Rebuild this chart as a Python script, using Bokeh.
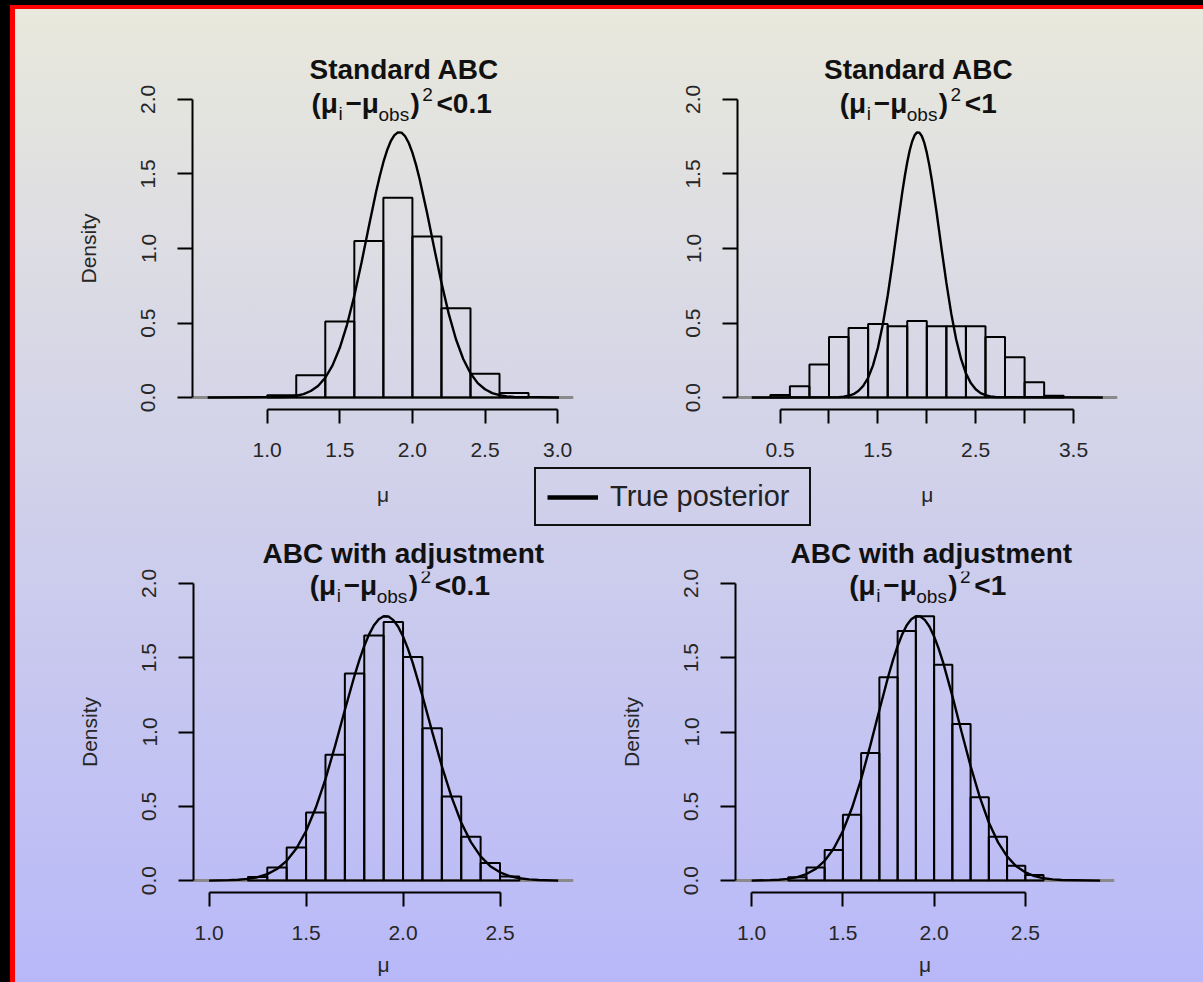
from bokeh.plotting import figure
from bokeh.models import Range1d, Label, Legend, LegendItem, Span, FixedTicker
from bokeh.layouts import column, row
from bokeh.embed import file_html
from bokeh.resources import INLINE

FONT = "Liberation Sans"

# ---------------- data ----------------
# true posterior density curve (same in all panels)
post_x = [1.10, 1.15, 1.20, 1.25, 1.30, 1.35, 1.40, 1.45, 1.50, 1.55, 1.60, 1.65,
          1.70, 1.75, 1.775, 1.80, 1.825, 1.85, 1.875, 1.90, 1.925, 1.95, 1.975,
          2.00, 2.025, 2.05, 2.10, 2.15, 2.20, 2.25, 2.30, 2.35, 2.40, 2.45, 2.50,
          2.55, 2.60, 2.65, 2.70]
post_y = [0.003, 0.006, 0.012, 0.023, 0.044, 0.078, 0.133, 0.216, 0.334, 0.490,
          0.683, 0.908, 1.148, 1.380, 1.485, 1.579, 1.657, 1.718, 1.759, 1.779,
          1.777, 1.753, 1.708, 1.643, 1.561, 1.465, 1.243, 1.003, 0.771, 0.563,
          0.391, 0.259, 0.163, 0.097, 0.056, 0.030, 0.016, 0.008, 0.004]

# Standard ABC, tolerance 0.1
p1_edges = [1.0, 1.2, 1.4, 1.6, 1.8, 2.0, 2.2, 2.4, 2.6, 2.8]
p1_density = [0.015, 0.15, 0.51, 1.05, 1.34, 1.08, 0.60, 0.16, 0.03]
p1_curve_ends = [0.59, 3.01]

# Standard ABC, tolerance 1
p2_edges = [0.4, 0.6, 0.8, 1.0, 1.2, 1.4, 1.6, 1.8, 2.0, 2.2, 2.4, 2.6, 2.8, 3.0, 3.2, 3.4]
p2_density = [0.018, 0.076, 0.222, 0.406, 0.467, 0.494, 0.478, 0.514, 0.478, 0.478,
              0.478, 0.406, 0.271, 0.103, 0.013]
p2_curve_ends = [0.21, 3.80]

# ABC with adjustment, tolerance 0.1
p3_edges = [1.2, 1.3, 1.4, 1.5, 1.6, 1.7, 1.8, 1.9, 2.0, 2.1, 2.2, 2.3, 2.4, 2.5, 2.6]
p3_density = [0.025, 0.089, 0.222, 0.459, 0.847, 1.393, 1.650, 1.741, 1.504, 1.025,
              0.566, 0.295, 0.118, 0.027]
p3_curve_ends = [1.00, 2.80]

# ABC with adjustment, tolerance 1
p4_edges = [1.2, 1.3, 1.4, 1.5, 1.6, 1.7, 1.8, 1.9, 2.0, 2.1, 2.2, 2.3, 2.4, 2.5, 2.6]
p4_density = [0.022, 0.089, 0.206, 0.444, 0.858, 1.368, 1.679, 1.779, 1.453, 1.053,
              0.561, 0.295, 0.100, 0.038]
p4_curve_ends = [1.00, 2.91]

titles_main = ["Standard ABC", "Standard ABC", "ABC with adjustment", "ABC with adjustment"]
titles_tol = ["<0.1", "<1", "<0.1", "<1"]

y_ticks = [0.0, 0.5, 1.0, 1.5, 2.0]
y_tick_labels = ["0.0", "0.5", "1.0", "1.5", "2.0"]
x_ticks_p1 = [1.0, 1.5, 2.0, 2.5, 3.0]
x_tick_labels_p1 = ["1.0", "1.5", "2.0", "2.5", "3.0"]
x_ticks_p2 = [0.5, 1.0, 1.5, 2.0, 2.5, 3.0, 3.5]
x_tick_labels_p2 = ["0.5", "", "1.5", "", "2.5", "", "3.5"]
x_ticks_p34 = [1.0, 1.5, 2.0, 2.5]
x_tick_labels_p34 = ["1.0", "1.5", "2.0", "2.5"]
legend_label = "True posterior"
x_label = "\u03bc"
y_label = "Density"

# ---------------- layout (pixels) ----------------
TOP_H, MID_H, BOT_H = 466, 66, 450
LEFT_W, RIGHT_W = 600, 603

specs = [
    dict(edges=p1_edges, dens=p1_density, ends=p1_curve_ends, title=titles_main[0], tol=titles_tol[0],
         xt=x_ticks_p1, xl=x_tick_labels_p1, w=LEFT_W, h=TOP_H, mb=(192, 27, 87, 57),
         xr=(0.4855, 3.1095), t1=117, t2=(119.0, -16.0), ylab=True, xlab=False, xso=19),
    dict(edges=p2_edges, dens=p2_density, ends=p2_curve_ends, title=titles_main[1], tol=titles_tol[1],
         xt=x_ticks_p2, xl=x_tick_labels_p2, w=RIGHT_W, h=TOP_H, mb=(137, 86, 87, 57),
         xr=(0.0644, 3.950), t1=86.5, t2=(102.3, -16.0), ylab=False, xlab=False, xso=19),
    dict(edges=p3_edges, dens=p3_density, ends=p3_curve_ends, title=titles_main[2], tol=titles_tol[2],
         xt=x_ticks_p34, xl=x_tick_labels_p34, w=LEFT_W, h=BOT_H, mb=(193, 27, 35, 90),
         xr=(0.9195, 2.879), t1=69, t2=(116.2, -14.0), ylab=True, xlab=True, xso=19),
    dict(edges=p4_edges, dens=p4_density, ends=p4_curve_ends, title=titles_main[3], tol=titles_tol[3],
         xt=x_ticks_p34, xl=x_tick_labels_p34, w=RIGHT_W, h=BOT_H, mb=(135, 89, 35, 90),
         xr=(0.9112, 2.989), t1=55, t2=(113.8, -14.0), ylab=True, xlab=True, xso=19),
]

YR = (-0.08, 2.08)
INK = "#262626"


def make_panel(s):
    p = figure(width=s["w"], height=s["h"], x_range=Range1d(*s["xr"]), y_range=Range1d(*YR),
               output_backend="svg", toolbar_location=None, tools="",
               min_border_left=s["mb"][0], min_border_right=s["mb"][1],
               min_border_top=s["mb"][2], min_border_bottom=s["mb"][3])
    p.background_fill_alpha = 0
    p.border_fill_alpha = 0
    p.outline_line_color = None
    p.grid.visible = False

    # title, first line
    p.title.text = s["title"]
    p.title.align = "left"
    p.title.offset = s["t1"]
    p.title.standoff = 6
    p.title.text_font = FONT
    p.title.text_font_style = "bold"
    p.title.text_font_size = "28px"
    p.title.text_color = "#111111"

    p.add_layout(Span(location=0, dimension="width", line_color="#8a8a8a",
                      line_width=3, level="underlay"))
    p.quad(left=s["edges"][:-1], right=s["edges"][1:], bottom=0, top=s["dens"],
           fill_color=None, line_color="black", line_width=2)
    cx = [s["ends"][0]] + post_x + [s["ends"][1]]
    cy = [0.0] + post_y + [0.0]
    p.line(cx, cy, line_color="black", line_width=2.4)

    xa = p.xaxis[0]
    xa.ticker = FixedTicker(ticks=s["xt"])
    xa.major_label_overrides = {t: l for t, l in zip(s["xt"], s["xl"])}
    xa.bounds = (s["xt"][0], s["xt"][-1])
    ya = p.yaxis[0]
    ya.ticker = FixedTicker(ticks=y_ticks)
    ya.major_label_overrides = {t: l for t, l in zip(y_ticks, y_tick_labels)}
    ya.bounds = (y_ticks[0], y_ticks[-1])
    ya.major_label_orientation = "vertical"
    for ax in (xa, ya):
        ax.axis_line_width = 2
        ax.axis_line_color = "black"
        ax.major_tick_line_width = 2
        ax.major_tick_line_color = "black"
        ax.major_tick_in = 0
        ax.minor_tick_line_color = None
        ax.major_label_text_font = FONT
        ax.major_label_text_font_size = "21px"
        ax.major_label_text_color = INK
    xa.major_tick_out = 14
    xa.major_label_standoff = s["xso"]
    ya.major_tick_out = 15
    ya.major_label_standoff = 22
    if s["ylab"]:
        ya.axis_label = y_label
        ya.axis_label_text_font = FONT
        ya.axis_label_text_font_size = "21px"
        ya.axis_label_text_font_style = "normal"
        ya.axis_label_text_color = INK
        ya.axis_label_standoff = 39
    if s["xlab"]:
        xa.axis_label = x_label
        xa.axis_label_text_font = FONT
        xa.axis_label_text_font_size = "21px"
        xa.axis_label_text_font_style = "normal"
        xa.axis_label_text_color = INK
        xa.axis_label_standoff = 10

    x0, y1 = s["xr"][0], YR[1]
    # title, second line : (mu_i - mu_obs)^2 < tol
    pieces = [("(\u03bc", 0.0, 0.0, "28px", "bold"),
              ("i", 27.0, -10.0, "19px", "normal"),
              ("\u2212\u03bc", 34.0, 0.0, "28px", "bold"),
              ("obs", 67.0, -11.0, "19px", "normal"),
              (")", 99.0, 0.0, "28px", "bold"),
              ("2", 110.7, 9.0, "19px", "normal"),
              (s["tol"], 125.0, 0.0, "28px", "bold")]
    for txt, dx, dy, fs, st in pieces:
        p.add_layout(Label(x=x0, y=y1, x_offset=s["t2"][0] + dx, y_offset=s["t2"][1] + dy,
                           text=txt, text_align="left", text_baseline="alphabetic",
                           text_font=FONT, text_font_style=st, text_font_size=fs,
                           text_color="#111111"))
    return p


panels = [make_panel(s) for s in specs]

# middle band: x-axis labels of the upper panels and the legend
pm = figure(width=LEFT_W + RIGHT_W, height=MID_H, x_range=Range1d(0, 1203), y_range=Range1d(532, 466),
            output_backend="svg", toolbar_location=None, tools="", min_border=0,
            x_axis_location=None, y_axis_location=None)
pm.background_fill_alpha = 0
pm.border_fill_alpha = 0
pm.outline_line_color = None
pm.grid.visible = False
for cxp in (382.5, 926.7):
    pm.add_layout(Label(x=cxp, y=494, text=x_label, text_align="center", text_baseline="alphabetic",
                        text_font=FONT, text_font_size="21px", text_color=INK))
# the posterior curve lies outside this band's ranges: it only feeds the legend sample
r_leg = pm.line(x=post_x, y=post_y, line_color="black", line_width=4.5)
legend = Legend(items=[LegendItem(label=legend_label, renderers=[r_leg])], location=(534, 6),
                padding=11, spacing=0, margin=0, glyph_width=51, glyph_height=30, label_standoff=12,
                label_width=188, label_text_font=FONT, label_text_font_size="29px",
                label_text_color="#222222", border_line_color="#111111", border_line_width=2,
                border_line_alpha=1.0, background_fill_alpha=0)
pm.add_layout(legend)

root = column(row(panels[0], panels[1]), pm, row(panels[2], panels[3]))
root.styles = {
    "background": "linear-gradient(180deg, #e9e9dc 0%, #b8b8f9 100%)",
    "box-shadow": "inset 10px 0 0 0 #000, inset 0 5px 0 0 #000, "
                  "inset 15px 0 0 0 #ff0000, inset 0 9px 0 0 #ff0000",
}

open("out.html", "w").write(file_html(root, INLINE))
